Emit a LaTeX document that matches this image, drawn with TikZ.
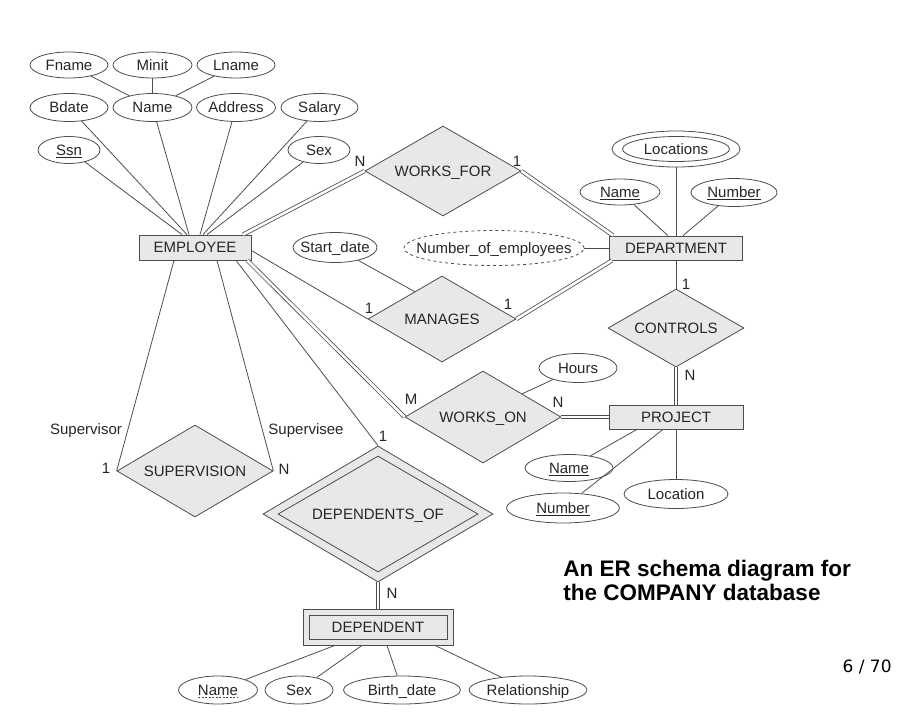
\documentclass[tikz,border=0pt]{standalone}
\usepackage{fontspec}
\setmainfont{Liberation Sans}
\newfontfamily\pagefont{DejaVu Sans}
\usepackage{xcolor}
\usepackage{tikz}
\usetikzlibrary{shapes.geometric}

\definecolor{linegray}{HTML}{4D4D4D}
\definecolor{textgray}{HTML}{262626}
\definecolor{boxgray}{HTML}{E8E8E8}

\begin{document}
\begin{tikzpicture}[x=1pt,y=-1pt,line width=0.8pt,color=linegray,text=textgray,
  font=\fontsize{15}{17}\selectfont,
  attr/.style={draw,ellipse,fill=white,inner sep=0pt,minimum height=28,
    text height=10.6pt,text depth=0pt,
    execute at begin node={\hbox to 0pt\bgroup\hss},
    execute at end node={\hss\egroup}},
  ent/.style={draw,rectangle,fill=boxgray,inner sep=0pt,text height=10.6pt,text depth=0pt},
  rel/.style={draw,diamond,fill=boxgray,inner sep=0pt,aspect=1.7,text height=10.6pt,text depth=0pt},
  dbl/.style={double,double distance=2.6pt},
  card/.style={inner sep=0pt}]
  \useasboundingbox (0,0) rectangle (912,726);
  % entities
  \node[ent,minimum width=112,minimum height=25] (emp) at (195,247.5) {EMPLOYEE};
  \node[ent,minimum width=133,minimum height=24] (dept) at (676,248) {DEPARTMENT};
  \node[ent,minimum width=134,minimum height=24] (proj) at (676,417) {PROJECT};
  \node[ent,minimum width=150,minimum height=36] (dep) at (378,627) {};
  \node[ent,minimum width=138,minimum height=24] (depin) at (378,627) {DEPENDENT};
  % relationships
  \node[rel,minimum width=156,minimum height=90] (wf) at (443,171) {WORKS\_FOR};
  \node[rel,minimum width=148,minimum height=86] (mg) at (442,319) {MANAGES};
  \node[rel,minimum width=136,minimum height=78] (ctrl) at (676,328) {CONTROLS};
  \node[rel,minimum width=156,minimum height=92] (wo) at (483,417) {WORKS\_ON};
  \node[rel,minimum width=156,minimum height=92] (sup) at (195,471) {SUPERVISION};
  \node[rel,minimum width=230,minimum height=136] (depof) at (378,514) {};
  \node[rel,minimum width=200,minimum height=116] (depofin) at (378,514) {DEPENDENTS\_OF};
  % attributes
  \node[attr,minimum width=78,minimum height=26] (fname) at (69,65) {Fname};
  \node[attr,minimum width=79,minimum height=26] (minit) at (152.5,65) {Minit};
  \node[attr,minimum width=78,minimum height=26] (lname) at (236,65) {Lname};
  \node[attr,minimum width=78] (bdate) at (69,107.5) {Bdate};
  \node[attr,minimum width=79] (name) at (152.5,107.5) {Name};
  \node[attr,minimum width=79] (address) at (236,107.5) {Address};
  \node[attr,minimum width=77] (salary) at (319.5,107.5) {Salary};
  \node[attr,minimum width=62,minimum height=27] (ssn) at (69,150) {\underline{Ssn}};
  \node[attr,minimum width=62,minimum height=27] (sex) at (319,150) {Sex};
  \node[attr,minimum width=84,minimum height=30] (sdate) at (335,247.5) {Start\_date};
  \node[attr,dashed,minimum width=180,minimum height=35] (noe) at (494,248) {Number\_of\_employees};
  \node[attr,minimum width=128,minimum height=36] (locs) at (676,149) {};
  \node[attr,minimum width=107,minimum height=25] (locsin) at (676,149) {Locations};
  \node[attr,minimum width=80,minimum height=26] (dname) at (620,192) {\underline{Name}};
  \node[attr,minimum width=86] (dnumber) at (734,192.5) {\underline{Number}};
  \node[attr,minimum width=78,minimum height=29] (hours) at (578,368) {Hours};
  \node[attr,minimum width=88,minimum height=27] (pname) at (569,468) {\underline{Name}};
  \node[attr,minimum width=113,minimum height=30] (pnumber) at (563,508) {\underline{Number}};
  \node[attr,minimum width=104,minimum height=29] (ploc) at (676,494) {Location};
  \node[attr,minimum width=79] (dpname) at (218,690) {Name};
  \draw[line width=0.6pt,dash pattern=on 2pt off 1.5pt] ([shift={(-20,7.5)}]dpname.center) -- ([shift={(20,7.5)}]dpname.center);
  \node[attr,minimum width=68] (dsex) at (299,690) {Sex};
  \node[attr,minimum width=117] (dbirth) at (402,690) {Birth\_date};
  \node[attr,minimum width=118] (drel) at (528,690) {Relationship};
  % attribute links
  \draw (fname) -- (name);
  \draw (minit) -- (name);
  \draw (lname) -- (name);
  \draw (ssn) -- ([xshift=-13]emp.north);
  \draw (bdate) -- ([xshift=-8]emp.north);
  \draw (name) -- ([xshift=-6]emp.north);
  \draw (address) -- ([xshift=5]emp.north);
  \draw (salary) -- ([xshift=8]emp.north);
  \draw (sex) -- ([xshift=12]emp.north);
  \draw (locs) -- (dept.north);
  \draw (dname) -- ([xshift=-8]dept.north);
  \draw (dnumber) -- ([xshift=7]dept.north);
  \draw (noe) -- (dept.west);
  \draw (sdate) -- (mg.135);
  \draw (hours) -- (wo.north east);
  \draw (pname) -- ([xshift=-39]proj.south);
  \draw (pnumber) -- ([xshift=-13]proj.south);
  \draw (ploc) -- (proj);
  \draw (dpname) -- ([xshift=-43]dep.south);
  \draw (dsex) -- ([xshift=-16]dep.south);
  \draw (dbirth) -- ([xshift=9]dep.south);
  \draw (drel) -- ([xshift=57]dep.south);
  % relationship links
  \draw[dbl] ([xshift=48]emp.north) -- (wf.west);
  \draw[dbl] (wf.east) -- ([xshift=4]dept.north west);
  \draw ([yshift=-3]emp.east) -- (mg.west);
  \draw[dbl] (mg.east) -- ([xshift=3]dept.south west);
  \draw (dept) -- (ctrl);
  \draw[dbl] (ctrl) -- (proj);
  \draw[dbl] ([xshift=-4]emp.south east) -- (wo.west);
  \draw[dbl] (wo) -- (proj);
  \draw ([xshift=-21]emp.south) -- (sup.west);
  \draw ([xshift=22]emp.south) -- (sup.east);
  \draw ([xshift=41]emp.south) -- (depof.north);
  \draw[dbl] (depof) -- (dep);
  % cardinalities and roles
  \node[card] (cwfn) at (360,161) {N};
  \node[card] (cwf1) at (517,161) {1};
  \node[card] (cmge) at (369,308) {1};
  \node[card] (cmgd) at (508,304) {1};
  \node[card] (cctd) at (686,284) {1};
  \node[card] (cctp) at (690,375) {N};
  \node[card] (cwop) at (558,402) {N};
  \node[card] (cwoe) at (411,399) {M};
  \node[card] (cdoe) at (383,436) {1};
  \node[card] (cdod) at (392,593) {N};
  \node[card] (csup1) at (106,468) {1};
  \node[card] (csupn) at (284,469) {N};
  \node[card] (rsupr) at (86,431) {Supervisor};
  \node[card] (rsupe) at (306,431) {Supervisee};
  % caption
  \node[anchor=base west,inner sep=0pt,text=black,font=\fontsize{22.5}{25}\selectfont\bfseries] (title1) at (563,576) {An ER schema diagram for};
  \node[anchor=base west,inner sep=0pt,text=black,font=\fontsize{22.5}{25}\selectfont\bfseries] (title2) at (563,600) {the COMPANY database};
  \node[anchor=base east,inner sep=0pt,text=black,font=\pagefont\fontsize{17}{20}\selectfont] (pagenum) at (892,672) {6 / 70};
\end{tikzpicture}
\end{document}
